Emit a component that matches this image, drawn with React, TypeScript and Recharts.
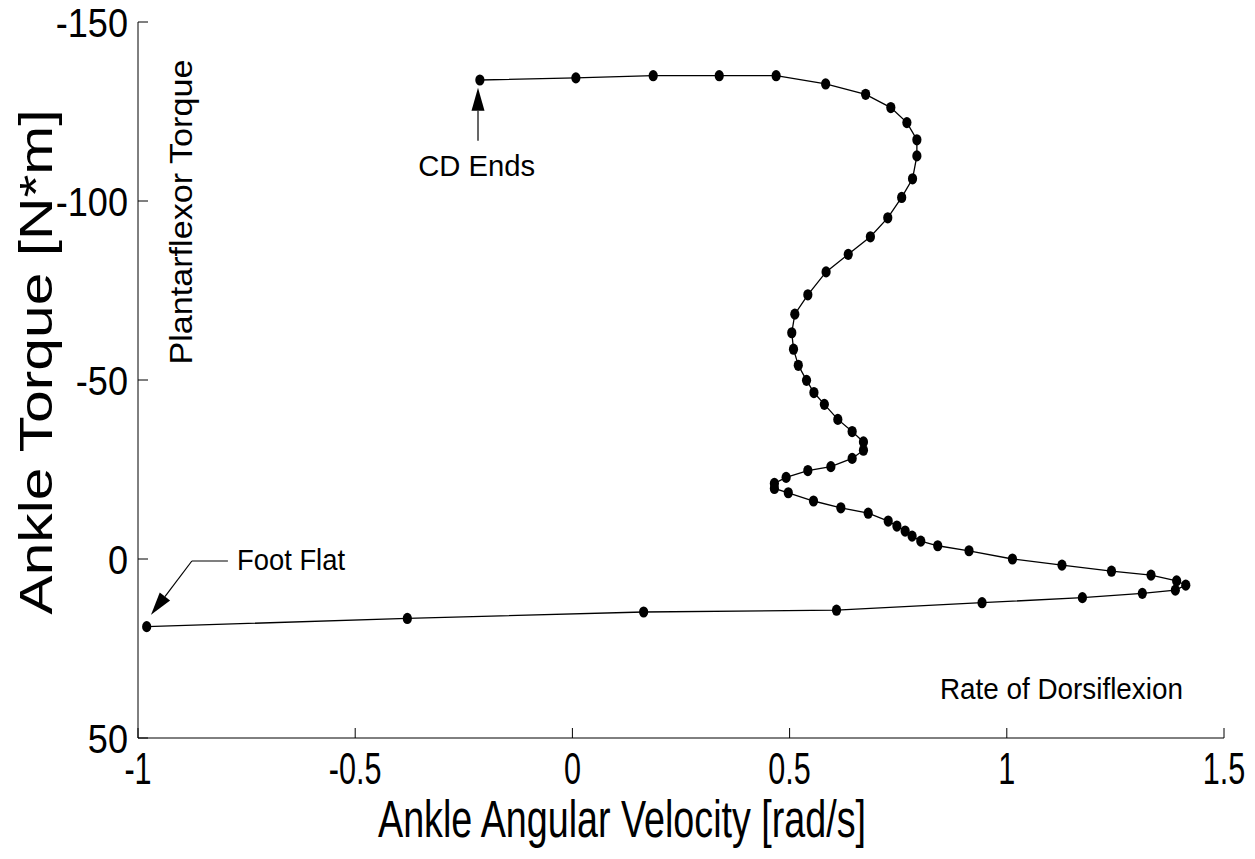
import { ScatterChart, Scatter, XAxis, YAxis, ReferenceLine, ReferenceDot } from "recharts";

// ankle angular velocity [rad/s], in the order the loop is traced (foot flat -> CD ends)
const velocity = [
  -0.98, -0.38, 0.164, 0.608, 0.943, 1.174, 1.312, 1.388, 1.412, 1.391,
  1.332, 1.241, 1.127, 1.013, 0.913, 0.841, 0.802, 0.782, 0.766, 0.747,
  0.727, 0.681, 0.618, 0.555, 0.497, 0.465, 0.465, 0.492, 0.542, 0.595,
  0.644, 0.67, 0.67, 0.644, 0.611, 0.58, 0.556, 0.539, 0.52, 0.509,
  0.505, 0.512, 0.542, 0.584, 0.635, 0.686, 0.726, 0.758, 0.783, 0.793,
  0.793, 0.77, 0.733, 0.675, 0.583, 0.469, 0.338, 0.186, 0.008, -0.213,
];

// ankle torque [N*m]
const torque = [
  18.9, 16.6, 14.8, 14.3, 12.2, 10.8, 9.6, 8.7, 7.3, 6.1,
  4.5, 3.4, 1.7, 0.0, -2.3, -3.7, -5.0, -6.4, -7.8, -9.2,
  -10.6, -12.8, -14.3, -16.2, -18.5, -19.7, -21.1, -22.8, -24.7, -25.8,
  -28.1, -30.4, -32.7, -35.6, -39.0, -43.2, -46.5, -49.9, -54.1, -58.6,
  -63.2, -68.4, -73.8, -80.2, -85.1, -90.0, -95.3, -101.0, -106.2, -112.6,
  -117.1, -121.9, -126.1, -129.8, -132.7, -135.0, -135.0, -135.0, -134.4, -133.8,
];

const xTicks = [-1, -0.5, 0, 0.5, 1, 1.5];
const yTicks = [-150, -100, -50, 0, 50];

const points = velocity.map((v, i) => ({ x: v, y: torque[i] }));

const FONT = '"Liberation Sans", Arial, sans-serif';

const Marker = (props: any) => (
  <ellipse cx={props.cx} cy={props.cy} rx={4.6} ry={5.6} fill="#000" />
);

const XTick = (props: any) => (
  <g transform={`translate(${props.x},${props.y}) scale(0.68,1)`}>
    <text x={0} y={0} textAnchor="middle" fontSize={45} fontFamily={FONT} fill="#000">
      {props.payload.value}
    </text>
  </g>
);

const YTick = (props: any) => (
  <g transform={`translate(${props.x},${props.y}) scale(0.88,1)`}>
    <text x={0} y={0} dy="0.36em" textAnchor="end" fontSize={41} fontFamily={FONT} fill="#000">
      {props.payload.value}
    </text>
  </g>
);

// line with a filled arrow head at (x2, y2)
const arrowShape = (head: boolean) => (p: any) => {
  const { x1, y1, x2, y2 } = p;
  const dx = x2 - x1;
  const dy = y2 - y1;
  const len = Math.sqrt(dx * dx + dy * dy) || 1;
  const ux = dx / len;
  const uy = dy / len;
  const hl = head ? 23 : 0;
  const hw = 6.5;
  const bx = x2 - ux * hl;
  const by = y2 - uy * hl;
  return (
    <g>
      <line x1={x1} y1={y1} x2={bx} y2={by} stroke="#000" strokeWidth={1.2} />
      {head && (
        <polygon
          points={`${x2},${y2} ${bx - uy * hw},${by + ux * hw} ${bx + uy * hw},${by - ux * hw}`}
          fill="#000"
        />
      )}
    </g>
  );
};

const textShape = (label: string, len: number, size: number, rotate = false) => (p: any) => (
  <text
    x={p.cx}
    y={p.cy}
    fontSize={size}
    fontFamily={FONT}
    fill="#000"
    textAnchor={rotate ? "middle" : "start"}
    textLength={len}
    lengthAdjust="spacingAndGlyphs"
    transform={rotate ? `rotate(-90, ${p.cx}, ${p.cy})` : undefined}
  >
    {label}
  </text>
);

export default function App() {
  return (
    <div style={{ marginTop: -8 }}>
      <ScatterChart width={1239} height={851} margin={{ top: 22, right: 23, left: 50, bottom: 53 }}>
        <XAxis
          type="number"
          dataKey="x"
          domain={[-1, 1.5]}
          ticks={xTicks}
          allowDataOverflow
          height={60}
          stroke="#000"
          tickSize={-10}
          tickMargin={56}
          tick={<XTick />}
          label={{
            content: (lp: any) => (
              <text
                x={lp.viewBox.x + lp.viewBox.width / 2 - 59}
                y={lp.viewBox.y + 99}
                textAnchor="middle"
                fontSize={51}
                fontFamily={FONT}
                textLength={488}
                lengthAdjust="spacingAndGlyphs"
                fill="#000"
              >
                Ankle Angular Velocity [rad/s]
              </text>
            ),
          }}
        />
        <YAxis
          type="number"
          dataKey="y"
          domain={[-150, 50]}
          reversed
          ticks={yTicks}
          allowDataOverflow
          width={80}
          stroke="#000"
          tickSize={-10}
          tickMargin={20}
          tick={<YTick />}
          label={{
            content: (lp: any) => {
              const cx = lp.viewBox.x - 6;
              const cy = lp.viewBox.y + lp.viewBox.height / 2 - 18;
              return (
                <text
                  x={cx}
                  y={cy}
                  transform={`rotate(-90, ${cx}, ${cy})`}
                  textAnchor="middle"
                  fontSize={47}
                  fontFamily={FONT}
                  textLength={505}
                  lengthAdjust="spacingAndGlyphs"
                  fill="#000"
                >
                  Ankle Torque [N*m]
                </text>
              );
            },
          }}
        />

        {/* annotations */}
        <ReferenceLine
          segment={[{ x: -0.2173, y: -116.8 }, { x: -0.2173, y: -131.6 }]}
          shape={arrowShape(true)}
        />
        <ReferenceLine
          segment={[{ x: -0.793, y: 0.56 }, { x: -0.876, y: 0.56 }]}
          shape={arrowShape(false)}
        />
        <ReferenceLine
          segment={[{ x: -0.876, y: 0.56 }, { x: -0.97, y: 15.6 }]}
          shape={arrowShape(true)}
        />
        <ReferenceDot x={-0.355} y={-107.0} shape={textShape("CD Ends", 117, 29)} />
        <ReferenceDot x={-0.772} y={3.1} shape={textShape("Foot Flat", 108, 29)} />
        <ReferenceDot x={0.846} y={39.1} shape={textShape("Rate of Dorsiflexion", 243, 29)} />
        <ReferenceDot x={-0.876} y={-96.9} shape={textShape("Plantarflexor Torque", 305, 31, true)} />

        <Scatter
          data={points}
          line={{ stroke: "#000", strokeWidth: 1.3 }}
          lineType="joint"
          shape={<Marker />}
          isAnimationActive={false}
        />
      </ScatterChart>
    </div>
  );
}
